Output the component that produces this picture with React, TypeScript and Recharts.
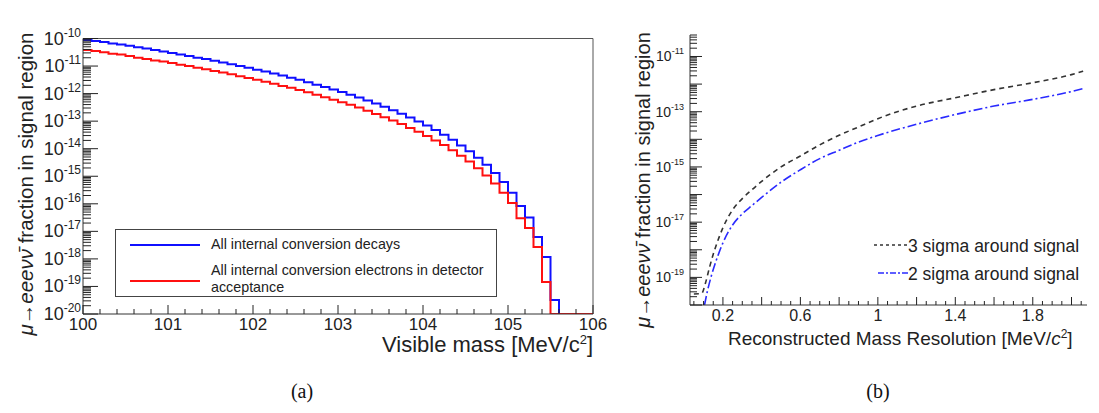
import React from 'react';
import { LineChart, Line, XAxis, YAxis, ReferenceLine } from 'recharts';

const FONT = "'Liberation Sans', Arial, Helvetica, sans-serif";
const SERIF = "'Liberation Serif', 'DejaVu Serif', serif";

// ---------- (a) histogram: bin lower edges (last entry closes the final bin) ----------
const binEdges = [
  100.0, 100.1, 100.2, 100.3, 100.4, 100.5, 100.6, 100.7, 100.8, 100.9,
  101.0, 101.1, 101.2, 101.3, 101.4, 101.5, 101.6, 101.7, 101.8, 101.9,
  102.0, 102.1, 102.2, 102.3, 102.4, 102.5, 102.6, 102.7, 102.8, 102.9,
  103.0, 103.1, 103.2, 103.3, 103.4, 103.5, 103.6, 103.7, 103.8, 103.9,
  104.0, 104.1, 104.2, 104.3, 104.4, 104.5, 104.6, 104.7, 104.8, 104.9,
  105.0, 105.1, 105.2, 105.3, 105.4, 105.5, 105.6, 105.7, 105.8, 105.9,
  106.0,
];

// empty bins sit on the axis floor (1e-20)
const allDecays = [
  8.9e-11, 8.1e-11, 7.4e-11, 6.6e-11, 6.0e-11, 5.4e-11, 4.8e-11, 4.3e-11, 3.8e-11, 3.4e-11,
  3.0e-11, 2.6e-11, 2.3e-11, 2.0e-11, 1.8e-11, 1.55e-11, 1.35e-11, 1.17e-11, 1.0e-11, 8.7e-12,
  7.4e-12, 6.3e-12, 5.4e-12, 4.5e-12, 3.8e-12, 3.2e-12, 2.6e-12, 2.1e-12, 1.74e-12, 1.41e-12,
  1.15e-12, 9.1e-13, 7.2e-13, 5.6e-13, 4.4e-13, 3.3e-13, 2.5e-13, 1.86e-13, 1.35e-13, 9.8e-14,
  6.9e-14, 4.8e-14, 3.2e-14, 2.1e-14, 1.32e-14, 8.1e-15, 4.7e-15, 2.6e-15, 1.32e-15, 6.2e-16,
  2.5e-16, 8.3e-17, 3.2e-17, 6.3e-18, 1.17e-18, 3.2e-20, 1e-20, 1e-20, 1e-20, 1e-20,
  1e-20,
];

const inAcceptance = [
  3.8e-11, 3.5e-11, 3.2e-11, 2.8e-11, 2.6e-11, 2.3e-11, 2.0e-11, 1.8e-11, 1.6e-11, 1.45e-11,
  1.3e-11, 1.12e-11, 1.0e-11, 8.7e-12, 7.6e-12, 6.6e-12, 5.8e-12, 5.0e-12, 4.3e-12, 3.7e-12,
  3.2e-12, 2.7e-12, 2.3e-12, 1.9e-12, 1.62e-12, 1.35e-12, 1.12e-12, 9.1e-13, 7.4e-13, 6.0e-13,
  4.9e-13, 3.9e-13, 3.1e-13, 2.4e-13, 1.82e-13, 1.38e-13, 1.05e-13, 7.8e-14, 5.6e-14, 4.1e-14,
  2.9e-14, 2.0e-14, 1.35e-14, 8.7e-15, 5.5e-15, 3.4e-15, 1.95e-15, 1.07e-15, 5.5e-16, 2.5e-16,
  1.07e-16, 3.0e-17, 1.32e-17, 2.7e-18, 1.45e-19, 1e-20, 1e-20, 1e-20, 1e-20, 1e-20,
  1e-20,
];

const histData = binEdges.map((x, i) => ({ x, all: allDecays[i], acc: inAcceptance[i] }));

// ---------- (b) curves ----------
const res3 = [0.05, 0.09, 0.11, 0.13, 0.15, 0.17, 0.2, 0.25, 0.3, 0.35, 0.4, 0.5, 0.6, 0.7, 0.8, 0.9, 1.0, 1.2, 1.4, 1.6, 1.8, 2.0, 2.06];
const frac3 = [2.5e-20, 2.6e-20, 6.3e-20, 2.2e-19, 6.9e-19, 1.8e-18, 6.3e-18, 2.8e-17, 7.1e-17, 1.5e-16, 3.0e-16, 1.0e-15, 2.5e-15, 6.3e-15, 1.4e-14, 2.8e-14, 5.6e-14, 1.6e-13, 3.2e-13, 6.3e-13, 1.12e-12, 2.2e-12, 2.95e-12];
const res2 = [0.105, 0.12, 0.14, 0.16, 0.18, 0.2, 0.25, 0.3, 0.35, 0.4, 0.5, 0.6, 0.7, 0.8, 0.9, 1.0, 1.2, 1.4, 1.6, 1.8, 2.0, 2.06];
const frac2 = [1e-20, 3.2e-20, 1.12e-19, 3.2e-19, 7.9e-19, 1.78e-18, 7.9e-18, 2.0e-17, 4.0e-17, 7.9e-17, 2.8e-16, 7.9e-16, 2.0e-15, 4.0e-15, 7.9e-15, 1.38e-14, 3.5e-14, 7.9e-14, 1.6e-13, 2.8e-13, 5.4e-13, 6.9e-13];

const sigma3Data = res3.map((x, i) => ({ x, y: frac3[i] }));
const sigma2Data = res2.map((x, i) => ({ x, y: frac2[i] }));

const xTicksA = Array.from({ length: 31 }, (_, i) => Math.round((100 + i * 0.2) * 10) / 10);
const xTicksB = Array.from({ length: 41 }, (_, i) => Math.round((i + 1) * 5) / 100);
const xLabelsB = [0.2, 0.6, 1, 1.4, 1.8];

function logTicks(minExp: number, maxVal: number) {
  const out: number[] = [];
  for (let n = minExp; n < 0; n++) {
    for (let k = 1; k <= 9; k++) {
      const v = k * Math.pow(10, n);
      if (v <= maxVal * 1.0001) out.push(v);
    }
  }
  return out;
}
const yTicksA = logTicks(-20, 1e-10);
const yTicksB = logTicks(-20, 6e-11);

const isDecade = (v: number) => {
  const e = Math.log10(v);
  return Math.abs(e - Math.round(e)) < 1e-6;
};

const AX = '#333';

function YTickA(props: any) {
  const { x, y, payload } = props;
  const v = payload.value;
  const major = isDecade(v);
  const e = Math.round(Math.log10(v));
  return (
    <g>
      <line x1={x} y1={y} x2={x + (major ? 15 : 8)} y2={y} stroke="#222" strokeWidth={1} />
      {major && (
        <text x={x - 2} y={y + 6} textAnchor="end" fontSize={18} fill="#222" fontFamily={FONT}>
          10<tspan dy={-8} fontSize={12}>{String(e)}</tspan>
        </text>
      )}
    </g>
  );
}

function XTickA(props: any) {
  const { x, y, payload } = props;
  const v = payload.value;
  const major = Math.abs(v - Math.round(v)) < 1e-6;
  return (
    <g>
      <line x1={x} y1={y} x2={x} y2={y - (major ? 9 : 5)} stroke="#222" strokeWidth={1} />
      {major && (
        <text x={x} y={y + 16} textAnchor="middle" fontSize={17} fill="#222" fontFamily={FONT}>
          {String(Math.round(v))}
        </text>
      )}
    </g>
  );
}

function YTickB(props: any) {
  const { x, y, payload } = props;
  const v = payload.value;
  const major = isDecade(v);
  const e = Math.round(Math.log10(v));
  const label = major && Math.abs(e) % 2 === 1;
  return (
    <g>
      <line x1={x} y1={y} x2={x + (major ? 12 : 7)} y2={y} stroke="#222" strokeWidth={1} />
      {label && (
        <text x={x - 6} y={y + 5} textAnchor="end" fontSize={14} fill="#222" fontFamily={FONT}>
          10<tspan dy={-7} fontSize={9}>{String(e)}</tspan>
        </text>
      )}
    </g>
  );
}

function XTickB(props: any) {
  const { x, y, payload } = props;
  const v = payload.value;
  const major = Math.abs(v * 5 - Math.round(v * 5)) < 1e-6;
  const label = xLabelsB.some((l) => Math.abs(l - v) < 1e-6);
  return (
    <g>
      <line x1={x} y1={y} x2={x} y2={y - (major ? 8 : 4)} stroke="#222" strokeWidth={1} />
      {label && (
        <text x={x} y={y + 16} textAnchor="middle" fontSize={16} fill="#222" fontFamily={FONT}>
          {v === 1 ? '1' : v.toFixed(1)}
        </text>
      )}
    </g>
  );
}

const abs = (left: number, top: number): React.CSSProperties => ({ position: 'absolute', left, top });

function YTitle({ cx, cy, size }: { cx: number; cy: number; size: number }) {
  return (
    <div
      style={{
        position: 'absolute',
        left: cx,
        top: cy,
        transform: 'translate(-50%, -50%) rotate(-90deg)',
        whiteSpace: 'nowrap',
        fontFamily: FONT,
        fontSize: size,
        color: '#222',
        lineHeight: 1,
      }}
    >
      <i>μ</i>→<i>eeeνν̄</i> fraction in signal region
    </div>
  );
}

export default function App() {
  return (
    <div style={{ position: 'absolute', left: 0, top: 0, width: 1099, height: 413, background: '#fff', overflow: 'hidden' }}>
      {/* ---------- (a) ---------- */}
      <div style={abs(0, 0)}>
        <LineChart width={610} height={360} data={histData} margin={{ top: 38.5, right: 17, bottom: 16, left: 0 }}>
          <XAxis
            type="number"
            dataKey="x"
            domain={[100, 106]}
            ticks={xTicksA}
            interval={0}
            tick={<XTickA />}
            tickLine={false}
            tickSize={0}
            tickMargin={0}
            height={30}
            axisLine={{ stroke: AX }}
            allowDataOverflow
          />
          <YAxis
            type="number"
            scale="log"
            domain={[1e-20, 1e-10]}
            ticks={yTicksA}
            interval={0}
            tick={<YTickA />}
            tickLine={false}
            tickSize={0}
            tickMargin={0}
            width={83}
            axisLine={{ stroke: AX }}
            allowDataOverflow
          />
          <ReferenceLine y={1e-10} stroke="#555" strokeWidth={1} />
          <ReferenceLine x={106} stroke="#555" strokeWidth={1} />
          <Line type="stepAfter" dataKey="all" stroke="#1010ff" strokeWidth={2} dot={false} isAnimationActive={false} />
          <Line type="stepAfter" dataKey="acc" stroke="#ff1010" strokeWidth={2} dot={false} isAnimationActive={false} />
        </LineChart>
      </div>
      <YTitle cx={26} cy={184} size={20.5} />
      <div style={{ ...abs(380, 333), fontFamily: FONT, fontSize: 22, lineHeight: 1, color: '#222', whiteSpace: 'nowrap', width: 213, textAlign: 'right' }}>
        Visible mass [MeV/c<sup style={{ fontSize: 13 }}>2</sup>]
      </div>
      {/* legend (a) */}
      <div style={{ ...abs(115, 229), width: 380, height: 66, border: '1px solid #444', background: '#fff', fontFamily: FONT, fontSize: 14.3, color: '#222' }}>
        <svg width={90} height={66} style={{ position: 'absolute', left: 0, top: 0 }}>
          <line x1={14} y1={15} x2={84} y2={15} stroke="#1010ff" strokeWidth={2} />
          <line x1={14} y1={51} x2={84} y2={51} stroke="#ff1010" strokeWidth={2} />
        </svg>
        <div style={{ position: 'absolute', left: 95, top: 6, whiteSpace: 'nowrap' }}>All internal conversion decays</div>
        <div style={{ position: 'absolute', left: 95, top: 32, whiteSpace: 'nowrap', lineHeight: '17px' }}>
          All internal conversion electrons in detector
          <br />
          acceptance
        </div>
      </div>
      <div style={{ ...abs(302, 380), transform: 'translateX(-50%)', fontFamily: SERIF, fontSize: 20, color: '#111' }}>(a)</div>

      {/* ---------- (b) ---------- */}
      <div style={abs(600, 0)}>
        <LineChart width={499} height={360} margin={{ top: 35, right: 12, bottom: 25, left: 0 }}>
          <XAxis
            type="number"
            dataKey="x"
            domain={[0.03, 2.08]}
            ticks={xTicksB}
            interval={0}
            tick={<XTickB />}
            tickLine={false}
            tickSize={0}
            tickMargin={0}
            height={30}
            axisLine={{ stroke: AX }}
            allowDataOverflow
          />
          <YAxis
            type="number"
            scale="log"
            domain={[1e-20, 6e-11]}
            ticks={yTicksB}
            interval={0}
            tick={<YTickB />}
            tickLine={false}
            tickSize={0}
            tickMargin={0}
            width={90}
            axisLine={{ stroke: AX }}
            allowDataOverflow
          />
          <Line data={sigma3Data} type="monotone" dataKey="y" stroke="#333" strokeWidth={1.6} strokeDasharray="5 4" dot={false} isAnimationActive={false} />
          <Line data={sigma2Data} type="monotone" dataKey="y" stroke="#2a2aff" strokeWidth={1.6} strokeDasharray="9 3 2 3" dot={false} isAnimationActive={false} />
        </LineChart>
      </div>
      <YTitle cx={643} cy={180} size={20} />
      <div style={{ ...abs(728, 328), fontFamily: FONT, fontSize: 19, lineHeight: 1, color: '#222', whiteSpace: 'nowrap' }}>
        Reconstructed Mass Resolution [MeV/<i>c</i><sup style={{ fontSize: 12 }}>2</sup>]
      </div>
      {/* legend (b) */}
      <svg width={40} height={60} style={{ position: 'absolute', left: 870, top: 230 }}>
        <line x1={4} y1={15} x2={38} y2={15} stroke="#333" strokeWidth={1.4} strokeDasharray="3 3" />
        <line x1={8} y1={43} x2={38} y2={43} stroke="#2a2aff" strokeWidth={1.4} strokeDasharray="6 2 2 2" />
      </svg>
      <div style={{ ...abs(908, 232), fontFamily: FONT, fontSize: 17.5, color: '#222', whiteSpace: 'nowrap', lineHeight: '28px' }}>
        3 sigma around signal
        <br />
        2 sigma around signal
      </div>
      <div style={{ ...abs(878, 380), transform: 'translateX(-50%)', fontFamily: SERIF, fontSize: 20, color: '#111' }}>(b)</div>
    </div>
  );
}
